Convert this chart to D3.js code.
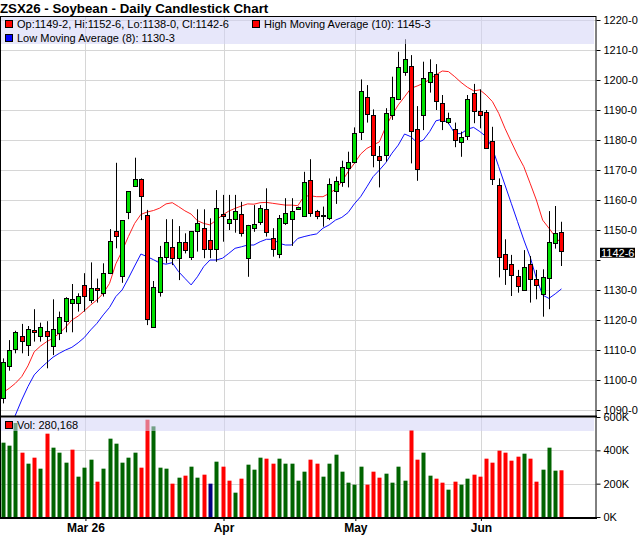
<!DOCTYPE html>
<html>
<head>
<meta charset="utf-8">
<script src="https://cdn.jsdelivr.net/npm/d3@7"></script>
<style>
  body { margin: 0; background: #fff; }
  text { font-family: Arial, "Liberation Sans", sans-serif; }
</style>
</head>
<body>
<div id="chart"></div>
<script>
var svgWidth = 640;
var svgHeight = 536;

// panel geometry
var plotRight = 596;
var priceTop = 16, priceBottom = 416;
var volTop = 417, volBottom = 517;

// daily OHLC
var opens = [1093.9,1104.7,1110.4,1114.6,1111.6,1116.7,1114.7,1116.4,1111.2,1115.6,
  1119.6,1125.6,1125.7,1131.7,1126.9,1130.6,1129.2,1135.6,1149.6,1134.7,
  1155.9,1164.7,1166.9,1154.9,1117.6,1129.4,1140.9,1144.2,1140.6,1145.9,
  1140.9,1149.6,1150.6,1146.7,1143.6,1155.3,1152.2,1153.6,1155.3,1140.6,
  1150.6,1152.6,1156.9,1147.2,1142.0,1152.4,1153.6,1157.1,1154.7,1166.6,
  1156.4,1154.7,1153.9,1163.1,1166.0,1170.7,1172.4,1182.6,1194.4,1188.2,
  1174.6,1174.8,1188.2,1193.6,1202.9,1204.7,1183.6,1188.2,1199.4,1201.9,
  1192.2,1185.9,1183.6,1179.2,1181.1,1195.6,1189.6,1189.2,1179.6,1164.9,
  1141.9,1138.6,1134.8,1130.2,1138.6,1133.6,1128.6,1133.9,1145.6,1149.25];
var highs = [1107.2,1113.3,1116.4,1118.7,1118.0,1123.6,1119.1,1119.6,1126.9,1122.8,
  1127.6,1132.0,1128.9,1135.6,1139.2,1133.8,1138.9,1150.3,1172.4,1153.2,
  1163.0,1174.1,1167.2,1156.7,1133.0,1144.7,1153.6,1153.6,1151.3,1148.9,
  1149.6,1156.9,1156.9,1153.9,1163.3,1161.7,1161.7,1161.7,1159.4,1151.7,
  1158.3,1158.3,1163.9,1150.6,1155.0,1160.6,1160.6,1157.8,1169.4,1173.6,
  1156.7,1157.8,1167.2,1167.8,1173.1,1176.1,1184.2,1200.2,1198.3,1190.2,
  1178.0,1190.6,1201.1,1209.4,1213.6,1208.3,1191.3,1206.1,1206.9,1205.3,
  1195.0,1189.1,1185.8,1182.8,1195.0,1198.7,1196.9,1190.0,1184.4,1167.2,
  1146.9,1141.7,1136.7,1143.3,1141.3,1136.7,1136.9,1156.3,1158.0,1152.75];
var lows = [1092.2,1103.1,1108.9,1108.9,1108.0,1112.8,1112.8,1103.9,1108.3,1113.3,
  1115.9,1115.9,1122.8,1122.8,1125.6,1125.8,1127.8,1135.3,1143.9,1132.4,
  1153.6,1164.4,1153.3,1118.3,1117.6,1127.8,1138.9,1138.3,1133.3,1142.2,
  1140.0,1142.8,1140.6,1140.6,1139.4,1146.1,1150.0,1149.1,1147.8,1134.4,
  1149.4,1151.7,1147.8,1141.1,1140.6,1151.7,1144.7,1156.9,1154.7,1154.4,
  1153.6,1151.1,1153.3,1158.7,1164.4,1164.2,1172.2,1180.0,1185.8,1170.9,
  1164.2,1172.8,1186.7,1193.3,1201.4,1172.2,1166.4,1183.3,1195.8,1190.0,
  1183.3,1185.3,1177.6,1174.4,1180.0,1185.6,1183.9,1177.2,1165.0,1134.2,
  1131.7,1128.0,1129.1,1130.0,1125.8,1126.9,1121.1,1123.6,1143.8,1138.0];
var closes = [1105.9,1110.0,1116.0,1112.9,1116.9,1116.0,1117.8,1114.7,1116.9,1120.9,
  1127.2,1126.9,1127.9,1128.1,1130.8,1129.8,1135.8,1146.2,1147.9,1153.2,
  1163.0,1166.9,1161.3,1120.2,1131.0,1140.9,1145.9,1140.6,1145.9,1143.3,
  1149.6,1152.2,1143.6,1143.6,1157.2,1154.8,1153.7,1156.4,1149.1,1151.7,
  1151.9,1157.2,1149.1,1143.6,1153.9,1155.6,1156.3,1157.6,1165.9,1155.6,
  1154.7,1155.1,1165.2,1166.4,1171.0,1172.6,1182.2,1196.2,1188.9,1174.8,
  1173.2,1188.9,1194.2,1204.4,1207.1,1182.9,1170.2,1200.6,1202.6,1192.9,
  1186.2,1187.2,1180.0,1180.9,1193.6,1189.6,1188.2,1177.3,1166.9,1140.9,
  1136.9,1134.9,1131.6,1137.8,1133.6,1131.6,1134.2,1145.9,1148.9,1142.75];

// High Moving Average (10) and Low Moving Average (8)
var highMA = [1095.8,1097.2,1098.9,1101.1,1104.7,1109.4,1111.3,1112.8,1113.9,1115.6,
  1117.6,1120.0,1121.3,1123.1,1125.0,1126.7,1128.9,1132.2,1138.7,1143.0,
  1147.8,1152.2,1155.2,1156.0,1156.5,1157.3,1158.7,1159.1,1157.8,1156.4,
  1155.3,1153.1,1152.2,1151.7,1153.3,1155.0,1156.3,1157.2,1158.0,1158.7,
  1158.6,1159.1,1159.2,1158.9,1158.6,1158.3,1158.3,1158.1,1161.3,1161.4,
  1161.1,1161.1,1162.2,1163.6,1166.1,1169.4,1172.2,1175.3,1177.2,1178.3,
  1179.4,1184.4,1188.3,1191.7,1194.4,1197.2,1198.0,1198.9,1200.2,1201.7,
  1203.0,1202.8,1201.1,1199.2,1197.6,1196.4,1196.7,1195.0,1192.8,1188.9,
  1183.9,1179.4,1175.0,1171.1,1165.6,1160.0,1153.3,1150.6,1147.8,1145.375];
var lowMA = [1078.0,1083.0,1088.3,1093.3,1097.8,1101.7,1103.9,1105.8,1107.6,1108.9,
  1110.0,1110.9,1112.4,1114.2,1116.7,1118.9,1121.7,1124.2,1127.8,1130.0,
  1133.9,1138.0,1142.0,1141.1,1140.1,1139.0,1138.6,1139.1,1136.1,1133.9,
  1131.7,1134.4,1137.8,1140.0,1140.0,1140.6,1142.2,1143.9,1144.4,1145.0,
  1145.0,1146.1,1146.9,1146.9,1145.6,1145.0,1145.0,1147.2,1147.8,1148.3,
  1148.7,1150.6,1151.7,1153.3,1154.2,1155.8,1158.7,1161.1,1164.4,1167.8,
  1170.0,1172.4,1175.6,1178.3,1182.0,1181.1,1179.1,1180.0,1182.8,1186.4,
  1186.9,1185.6,1182.2,1182.1,1183.6,1184.2,1182.8,1181.1,1177.2,1171.1,
  1165.0,1158.9,1152.8,1146.7,1141.1,1133.9,1128.3,1127.2,1128.7,1130.375];

// volume in thousands
var volumes = [446,428,564,386,320,356,290,500,416,386,
  326,404,242,296,344,212,290,470,440,326,
  356,386,296,584,544,296,290,200,236,248,
  302,236,254,200,332,302,218,146,230,314,
  284,356,350,320,350,320,320,218,272,344,
  320,242,320,374,272,206,194,302,194,272,
  236,260,206,302,218,522,344,386,248,230,
  206,164,212,194,230,254,242,350,326,398,
  386,338,362,380,350,212,284,416,278,280.168];
// volume bar colour: g = up close, r = down close, n = unchanged
var volDir = ("gggrgrgrgg" + "grgggrgggg" + "ggrrgggrgr" + "ggrngrrgrg" + "ggrrgggggr" +
  "rgggggggrr" + "rggggrrggr" + "rgrggrrrrr" + "rrrgrrgggr").split("");

var priceTicks = [1090,1100,1110,1120,1130,1140,1150,1160,1170,1180,1190,1200,1210,1220];
var volTicks = [0,200,400,600];
var monthIdx = [13,35,56,76];
var monthLabels = ["Mar 26","Apr","May","Jun"];

var upColor = "#00e000", downColor = "#ff0000";
var volColors = { g: "#006400", r: "#ff0000", n: "#000080" };

function fmtPrice(v) {
  var w = Math.floor(v + 1e-9);
  var e = Math.round((v - w) * 8);
  if (e === 8) { w += 1; e = 0; }
  return w + "-" + e;
}

var n = closes.length;
var idx = d3.range(n);

var svg = d3.select("#chart")
  .append("svg")
  .attr("width", svgWidth)
  .attr("height", svgHeight);

svg.append("rect").attr("width", svgWidth).attr("height", svgHeight).attr("fill", "#fff");

// scales
var x = d3.scaleLinear().domain([-0.45, 94.5]).range([0, plotRight]);
var y = d3.scaleLinear().domain([1090, 1220]).range([410, 20]);
var vy = d3.scaleLinear().domain([0, 600]).range([volBottom, volTop]);

function cx(i) { return Math.round(x(i)); }

// clip for price panel
svg.append("clipPath").attr("id", "priceClip")
  .append("rect").attr("x", 0).attr("y", priceTop).attr("width", plotRight).attr("height", priceBottom - priceTop);

// grid lines
var grid = svg.append("g").attr("stroke", "#d6d6d6").attr("stroke-width", 1);
grid.selectAll(".hg").data(priceTicks).enter().append("line")
  .attr("x1", 0).attr("x2", plotRight)
  .attr("y1", d => Math.round(y(d)) + 0.5).attr("y2", d => Math.round(y(d)) + 0.5);
grid.selectAll(".vg").data([200, 400]).enter().append("line")
  .attr("x1", 0).attr("x2", plotRight)
  .attr("y1", d => Math.round(vy(d)) + 0.5).attr("y2", d => Math.round(vy(d)) + 0.5);
grid.selectAll(".mg").data(monthIdx).enter().append("line")
  .attr("x1", d => cx(d) + 1.5).attr("x2", d => cx(d) + 1.5)
  .attr("y1", priceTop).attr("y2", volBottom);

var pricePanel = svg.append("g").attr("clip-path", "url(#priceClip)");

// moving averages
pricePanel.append("path")
  .attr("d", d3.line().x((d, i) => x(i)).y(d => y(d))(highMA))
  .attr("fill", "none").attr("stroke", "#ff2020").attr("stroke-width", 1);
pricePanel.append("path")
  .attr("d", d3.line().x((d, i) => x(i)).y(d => y(d))(lowMA))
  .attr("fill", "none").attr("stroke", "#1010ff").attr("stroke-width", 1);

// candles
var candles = pricePanel.selectAll(".candle").data(idx).enter().append("g");
candles.append("line")
  .attr("x1", i => cx(i) + 0.5).attr("x2", i => cx(i) + 0.5)
  .attr("y1", i => y(highs[i])).attr("y2", i => y(lows[i]))
  .attr("stroke", "#000").attr("stroke-width", 1);
candles.append("rect")
  .attr("x", i => cx(i) - 1.5)
  .attr("y", i => Math.round(y(Math.max(opens[i], closes[i]))) + 0.5)
  .attr("width", 4)
  .attr("height", i => Math.max(1, Math.round(Math.abs(y(opens[i]) - y(closes[i])))))
  .attr("fill", i => closes[i] >= opens[i] ? upColor : downColor)
  .attr("stroke", "#000").attr("stroke-width", 1);

// volume bars
svg.append("g").selectAll("rect").data(idx).enter().append("rect")
  .attr("x", i => cx(i) - 1.5)
  .attr("y", i => vy(volumes[i]))
  .attr("width", 4)
  .attr("height", i => volBottom - vy(volumes[i]))
  .attr("fill", i => volColors[volDir[i]]);

// legend bands
svg.append("rect").attr("x", 1).attr("y", priceTop).attr("width", plotRight - 3).attr("height", 28)
  .attr("fill", "#d4d4f6").attr("opacity", 0.55);
svg.append("rect").attr("x", 1).attr("y", volTop + 1).attr("width", plotRight - 3).attr("height", 13)
  .attr("fill", "#d4d4f6").attr("opacity", 0.55);

var legend = svg.append("g").style("font-size", "11px");
var legendItems = [
  { x: 5, y: 24, color: "#ff0000",
    text: "Op:" + fmtPrice(opens[n - 1]) + ", Hi:" + fmtPrice(highs[n - 1]) +
          ", Lo:" + fmtPrice(lows[n - 1]) + ", Cl:" + fmtPrice(closes[n - 1]) },
  { x: 252, y: 24, color: "#ff0000", text: "High Moving Average (10): " + fmtPrice(highMA[n - 1]) },
  { x: 5, y: 38, color: "#0000ff", text: "Low Moving Average (8): " + fmtPrice(lowMA[n - 1]) },
  { x: 5, y: 425, color: "#ff0000", text: "Vol: " + d3.format(",")(Math.round(volumes[n - 1] * 1000)) }
];
legend.selectAll("rect").data(legendItems).enter().append("rect")
  .attr("x", d => d.x + 0.5).attr("y", d => d.y - 3.5).attr("width", 7).attr("height", 7)
  .attr("fill", d => d.color).attr("stroke", "#000").attr("stroke-width", 1);
legend.selectAll("text").data(legendItems).enter().append("text")
  .attr("x", d => d.x + 12).attr("y", d => d.y + 4)
  .attr("fill", "#000")
  .text(d => d.text);

// panel frames
var frame = svg.append("g").attr("fill", "none").attr("stroke", "#000");
frame.append("rect").attr("x", 0.5).attr("y", priceTop + 0.5)
  .attr("width", plotRight - 0.5).attr("height", volBottom - priceTop).attr("stroke-width", 1);
frame.append("line").attr("x1", 0).attr("x2", plotRight + 1)
  .attr("y1", volTop - 0.5).attr("y2", volTop - 0.5).attr("stroke-width", 2);
frame.append("line").attr("x1", 0).attr("x2", plotRight + 1)
  .attr("y1", volBottom + 1).attr("y2", volBottom + 1).attr("stroke-width", 2);

// last price marker position
var lastY = y(closes[n - 1]);

// right price axis (the label under the last-price marker is hidden)
var priceAxis = svg.append("g")
  .attr("transform", `translate(${plotRight + 0.5},0)`)
  .call(d3.axisRight(y).tickValues(priceTicks).tickSize(4).tickPadding(3).tickFormat(d => d + "-0"));
priceAxis.select(".domain").remove();
priceAxis.selectAll("text").style("font-size", "11px").attr("fill", "#000")
  .style("font-family", "Arial, 'Liberation Sans', sans-serif")
  .style("display", d => Math.abs(y(d) - lastY) < 10 ? "none" : null);

// right volume axis
var volAxis = svg.append("g")
  .attr("transform", `translate(${plotRight + 0.5},0)`)
  .call(d3.axisRight(vy).tickValues(volTicks).tickSize(4).tickPadding(3).tickFormat(d => d + "K"));
volAxis.select(".domain").remove();
volAxis.selectAll("text").style("font-size", "11px").attr("fill", "#000")
  .style("font-family", "Arial, 'Liberation Sans', sans-serif");

// last price marker
svg.append("rect").attr("x", 600).attr("y", lastY - 4).attr("width", 35).attr("height", 10).attr("fill", "#000");
svg.append("text").attr("x", 601).attr("y", lastY + 5)
  .style("font-size", "11px").attr("fill", "#fff")
  .text(fmtPrice(closes[n - 1]));

// bottom date axis
var dateAxis = svg.append("g")
  .attr("transform", `translate(1,${volBottom + 1})`)
  .call(d3.axisBottom(x).tickValues(monthIdx).tickSize(3).tickPadding(2)
    .tickFormat((d, i) => monthLabels[i]));
dateAxis.select(".domain").remove();
dateAxis.selectAll("text").style("font-size", "12px").style("font-weight", "bold").attr("fill", "#000")
  .style("font-family", "Arial, 'Liberation Sans', sans-serif");

// title
svg.append("text")
  .attr("x", 0).attr("y", 13)
  .style("font-size", "13.3px").style("font-weight", "bold")
  .text("ZSX26 - Soybean - Daily Candlestick Chart");
</script>
</body>
</html>
